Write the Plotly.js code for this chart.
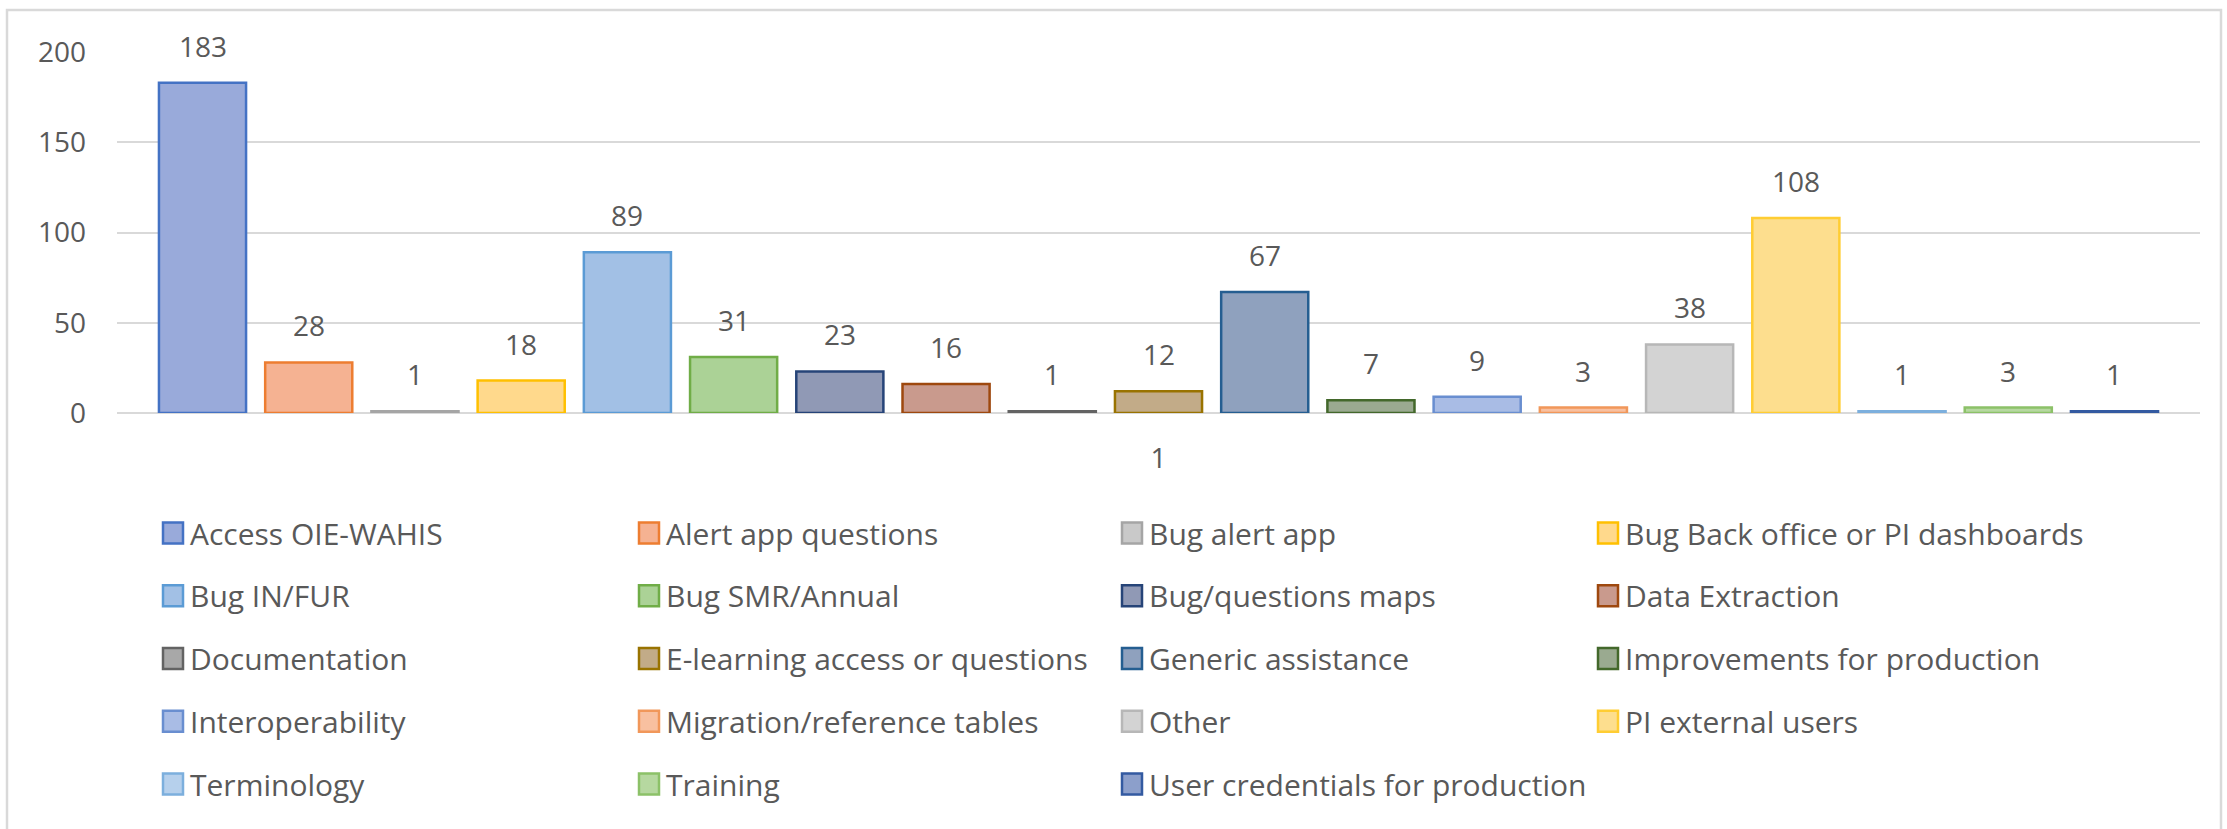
<!DOCTYPE html>
<html>
<head>
<meta charset="utf-8">
<script src="https://cdn.plot.ly/plotly-3.0.1.min.js"></script>
<style>
  html, body { margin: 0; padding: 0; background: #ffffff; }
  #chart { width: 2227px; height: 829px; }
</style>
</head>
<body>
<div id="chart"></div>
<script>
// ---- data ----
const categories = [
  "Access OIE-WAHIS", "Alert app questions", "Bug alert app", "Bug Back office or PI dashboards",
  "Bug IN/FUR", "Bug SMR/Annual", "Bug/questions maps", "Data Extraction",
  "Documentation", "E-learning access or questions", "Generic assistance", "Improvements for production",
  "Interoperability", "Migration/reference tables", "Other", "PI external users",
  "Terminology", "Training", "User credentials for production"
];
const values = [183, 28, 1, 18, 89, 31, 23, 16, 1, 12, 67, 7, 9, 3, 38, 108, 1, 3, 1];
const xTickLabels = ["1"];
const yTickValues = [0, 50, 100, 150, 200];

// ---- styles ----
const fillColors = [
  "#99AADA", "#F5B292", "#C9C9C9", "#FFD98C",
  "#A2C0E5", "#ABD296", "#9099B5", "#C99A8D",
  "#A8A8A8", "#C2AB88", "#8FA1BE", "#9AAA90",
  "#A9BCE5", "#F8C0A0", "#D3D3D3", "#FDDE8E",
  "#B6D0EC", "#B6D8A0", "#8C9FCB"
];
const lineColors = [
  "#4472C4", "#ED7D31", "#A5A5A5", "#FFC000",
  "#5B9BD5", "#70AD47", "#264478", "#9E480E",
  "#636363", "#997300", "#255E91", "#43682B",
  "#698ED0", "#F1975A", "#B7B7B7", "#FFCD33",
  "#7CAFDD", "#8CC168", "#335AA1"
];

const W = 2227, H = 829;
const M = { l: 117, r: 27, t: 52, b: 416 };
const plotW = W - M.l - M.r, plotH = H - M.t - M.b;
const px2x = p => (p - M.l) / plotW;
const px2y = p => 1 - (p - M.t) / plotH;

const FONT = "'Open Sans', 'Noto Sans', sans-serif";
const TXT = "#595959";
const FS = 28;
const LEG_FS = 30;
const COLS = 4;
// legend laid out as 4 columns (row-major order like the reference)
const legendIds = ["legend", "legend2", "legend3", "legend4"];
const legendColLeftPx = [150, 626, 1109, 1585];
const legendTopPx = 507;
const rowPitchPx = 62.75;
const itemH = LEG_FS * 1.3 + 3;

const traces = categories.map((name, i) => ({
  type: "bar",
  name: name,
  x: [i],
  y: [values[i]],
  width: [0.82],
  marker: { color: fillColors[i], line: { color: lineColors[i], width: 2.5 } },
  legend: legendIds[i % COLS],
  legendgroup: "g" + i,
  hovertemplate: name + ": %{y}<extra></extra>"
}));

const annotations = categories.map((name, i) => ({
  x: i, y: values[i], xref: "x", yref: "y",
  text: String(values[i]),
  showarrow: false,
  yanchor: "bottom",
  yshift: 16,
  font: { family: FONT, size: FS, color: TXT }
}));

const layout = {
  width: W, height: H,
  margin: M,
  paper_bgcolor: "#ffffff",
  plot_bgcolor: "#ffffff",
  barmode: "overlay",
  font: { family: FONT, size: FS, color: TXT },
  xaxis: {
    range: [-0.805, categories.length - 1 + 0.805],
    tickvals: [(categories.length - 1) / 2],
    ticktext: xTickLabels,
    showgrid: false, zeroline: false, showline: false, ticks: "",
    tickfont: { family: FONT, size: FS, color: TXT },
    ticklabelstandoff: 26,
    fixedrange: true
  },
  yaxis: {
    range: [0, 200],
    tickvals: yTickValues,
    showgrid: true, gridcolor: "#D9D9D9", gridwidth: 2,
    zeroline: true, zerolinecolor: "#D9D9D9", zerolinewidth: 2,
    showline: false, ticks: "",
    tickfont: { family: FONT, size: FS, color: TXT },
    ticklabelstandoff: 30,
    fixedrange: true
  },
  annotations: annotations,
  shapes: [{
    type: "rect", xref: "paper", yref: "paper", layer: "below",
    x0: px2x(7), x1: px2x(2221), y0: px2y(840), y1: px2y(10),
    line: { color: "#D9D9D9", width: 2.5 }, fillcolor: "rgba(0,0,0,0)"
  }]
};

legendIds.forEach((id, c) => {
  layout[id] = {
    orientation: "v",
    x: px2x(legendColLeftPx[c]), xanchor: "left",
    y: px2y(legendTopPx), yanchor: "top",
    tracegroupgap: rowPitchPx - itemH,
    font: { family: FONT, size: LEG_FS, color: TXT },
    bgcolor: "rgba(0,0,0,0)",
    borderwidth: 0,
    traceorder: "grouped"
  };
});

// enlarge the legend swatches (and move them next to the text) like the reference
function enlargeSwatches() {
  document.querySelectorAll("#chart .legendpoints path").forEach(p => {
    p.setAttribute("d", "M13,10.5H-7V-10.5H13Z");
  });
}

Plotly.newPlot("chart", traces, layout, { displayModeBar: false, responsive: false })
  .then(gd => {
    enlargeSwatches();
    gd.on("plotly_afterplot", enlargeSwatches);
  });
</script>
</body>
</html>
